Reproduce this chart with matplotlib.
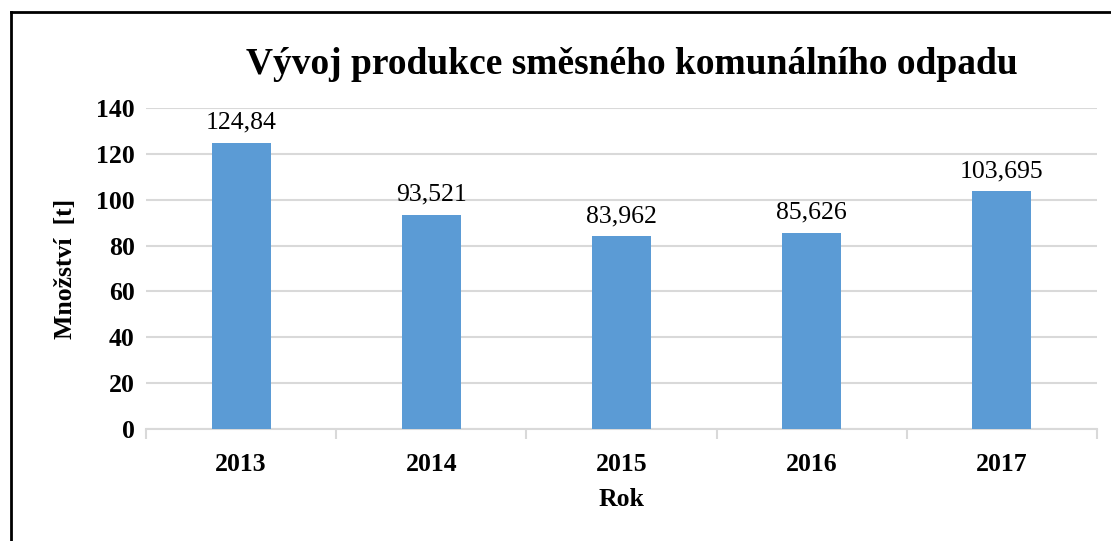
import matplotlib.pyplot as plt
from matplotlib.lines import Line2D

years = ['2013', '2014', '2015', '2016', '2017']
amounts = [124.84, 93.521, 83.962, 85.626, 103.695]
labels = ['124,84', '93,521', '83,962', '85,626', '103,695']

plt.rcParams['font.family'] = ['Liberation Serif', 'DejaVu Serif']

fig = plt.figure(figsize=(11.11, 5.41), dpi=100)
ax = fig.add_axes([0.1314, 0.207, 0.856, 0.5934])

x = range(len(years))
bars = ax.bar(x, amounts, width=0.31, color='#5B9BD5', zorder=3)
for b, lab in zip(bars, labels):
    ax.text(b.get_x() + b.get_width() / 2, b.get_height() + 4, lab,
            ha='center', va='bottom', fontsize=18.5)

ax.set_xlim(-0.5, len(years) - 0.5)
ax.set_ylim(0, 140)
ax.set_yticks(range(0, 141, 20))
ax.yaxis.grid(True, color='#D9D9D9', linewidth=1.5, zorder=0)
ax.set_axisbelow(True)

for side in ['top', 'right', 'left']:
    ax.spines[side].set_visible(False)
ax.spines['bottom'].set_color('#D9D9D9')
ax.spines['bottom'].set_linewidth(1.5)

ax.set_xticks(x)
ax.set_xticklabels(years, fontsize=18.5, fontweight='bold')
ax.tick_params(axis='x', length=0, pad=17)
ax.set_xticks([i - 0.5 for i in range(len(years) + 1)], minor=True)
ax.tick_params(axis='x', which='minor', length=7, width=1.5, color='#D9D9D9')
ax.tick_params(axis='y', length=0, labelsize=18.5, pad=8)
for t in ax.get_yticklabels():
    t.set_fontweight('bold')

ax.set_xlabel('Rok', fontsize=18.5, fontweight='bold', labelpad=9)
ax.set_ylabel('Množství  [t]', fontsize=18.5, fontweight='bold', labelpad=14)

fig.text(0.569, 0.88, 'Vývoj produkce směsného komunálního odpadu',
         ha='center', va='center', fontsize=27, fontweight='bold')

# chart frame (left and top edges only visible)
fig.add_artist(Line2D([0.0095, 0.0095], [0, 0.978], color='black', linewidth=2))
fig.add_artist(Line2D([0.0095, 1.0], [0.978, 0.978], color='black', linewidth=2))

fig.savefig('out.png', dpi=100)
